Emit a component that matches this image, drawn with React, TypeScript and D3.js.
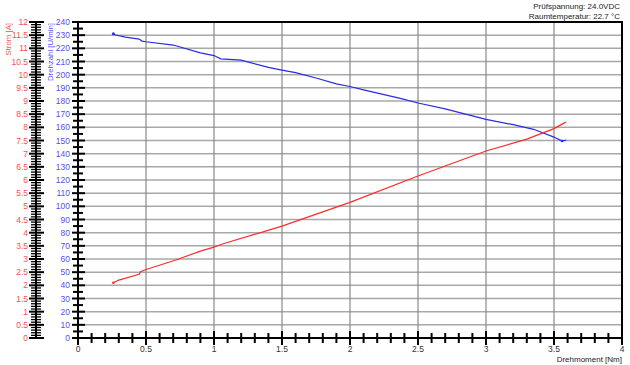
import React from "react";
import * as d3 from "d3";

const torqueRpm = [0.26, 0.27, 0.35, 0.45, 0.47, 0.5, 0.7, 0.9, 1.0, 1.05, 1.2, 1.4, 1.5, 1.6, 1.75, 1.9, 2.0, 2.1, 2.37, 2.5, 2.7, 3.0, 3.2, 3.35, 3.5, 3.56, 3.59];
const rpmValues = [231, 230.3, 228.5, 227, 225.5, 225, 222.5, 216.5, 214.5, 212, 211, 205.5, 203.5, 201.5, 197.5, 193, 191, 188.5, 182, 178.5, 174, 166, 162, 158.5, 152.6, 149.6, 150.4];
const torqueCurrent = [0.26, 0.3, 0.45, 0.46, 0.5, 0.72, 0.9, 1.0, 1.05, 1.5, 2.0, 2.5, 3.0, 3.3, 3.5, 3.57, 3.59];
const currentValues = [2.1, 2.2, 2.42, 2.52, 2.6, 2.96, 3.3, 3.45, 3.55, 4.25, 5.15, 6.15, 7.1, 7.55, 7.95, 8.15, 8.2];
const xTicks = [0, 0.5, 1, 1.5, 2, 2.5, 3, 3.5, 4];
const rpmTicks = d3.range(0, 241, 10);
const currentTicks = d3.range(0, 12.01, 0.5);
const infoLines = ["Prüfspannung: 24.0VDC", "Raumtemperatur: 22.7 °C"];

export default function App() {
  const x = d3.scaleLinear().domain([0, 4]).range([78, 622]);
  const yR = d3.scaleLinear().domain([0, 240]).range([338, 22]);
  const yC = d3.scaleLinear().domain([0, 12]).range([338, 22]);
  const font = "Liberation Sans, Arial, sans-serif";
  const rpmLine = d3.line<number>().x((_, i) => x(torqueRpm[i])).y((d) => yR(d));
  const curLine = d3.line<number>().x((_, i) => x(torqueCurrent[i])).y((d) => yC(d));
  const xMinor = d3.range(0, 4.001, 0.1).map((v) => +v.toFixed(2));
  const cMinor = d3.range(0, 12.001, 0.1).map((v) => +v.toFixed(2));
  const rMinor = d3.range(5, 240, 10);
  return (
    <svg width={630} height={365} style={{ position: "absolute", left: 0, top: 0, background: "#fff" }} fontFamily={font}>
      {rpmTicks.map((t) => (
        <line key={"hg" + t} x1={78} x2={622} y1={yR(t)} y2={yR(t)} stroke="#a8a8a8" strokeWidth={1.5} />
      ))}
      {xTicks.map((t) => (
        <line key={"vg" + t} x1={x(t)} x2={x(t)} y1={22} y2={338} stroke="#8a8a8a" strokeWidth={1.2} />
      ))}
      <line x1={78} x2={623} y1={22} y2={22} stroke="#000" strokeWidth={2} />
      <line x1={622} x2={622} y1={22} y2={338} stroke="#000" strokeWidth={2} />
      <line x1={78} x2={623} y1={338} y2={338} stroke="#000" strokeWidth={2} />
      {xMinor.map((t) => {
        const major = Math.abs(t * 2 - Math.round(t * 2)) < 1e-6;
        return <line key={"xm" + t} x1={x(t)} x2={x(t)} y1={major ? 331 : 333} y2={major ? 345 : 343} stroke="#000" strokeWidth={2} />;
      })}
      {xTicks.map((t) => (
        <text key={"xl" + t} x={x(t)} y={352} fontSize={8.5} textAnchor="middle" fill="#333">{t}</text>
      ))}
      <text x={622} y={362} fontSize={8} textAnchor="end" fill="#222">Drehmoment [Nm]</text>
      <line x1={78} x2={78} y1={22} y2={339} stroke="#000" strokeWidth={2} />
      {rpmTicks.map((t) => (
        <line key={"rt" + t} x1={72} x2={85} y1={yR(t)} y2={yR(t)} stroke="#000" strokeWidth={2} />
      ))}
      {rMinor.map((t) => (
        <line key={"rm" + t} x1={73} x2={83} y1={yR(t)} y2={yR(t)} stroke="#000" strokeWidth={2} />
      ))}
      {rpmTicks.map((t) => (
        <text key={"rl" + t} x={70} y={yR(t) + 3} fontSize={8.5} textAnchor="end" fill="#5050ff">{t}</text>
      ))}
      <text transform="translate(53,23) rotate(-90)" fontSize={7.8} textAnchor="end" fill="#5050ff">Drehzahl [U/min]</text>
      <line x1={36} x2={36} y1={22} y2={339} stroke="#000" strokeWidth={2} />
      {cMinor.map((t) => {
        const major = Math.abs(t * 2 - Math.round(t * 2)) < 1e-6;
        return <line key={"cm" + t} x1={major ? 29 : 31} x2={major ? 44 : 41} y1={yC(t)} y2={yC(t)} stroke="#000" strokeWidth={major ? 2 : 1.3} />;
      })}
      {currentTicks.map((t) => (
        <text key={"cl" + t} x={28} y={yC(t) + 3} fontSize={8.5} textAnchor="end" fill="#ff4c4c">{t}</text>
      ))}
      <text transform="translate(11,23) rotate(-90)" fontSize={7.8} textAnchor="end" fill="#ff4c4c">Strom [A]</text>
      <path d={rpmLine(rpmValues) || ""} fill="none" stroke="#2a2ae8" strokeWidth={1.2} />
      <path d={curLine(currentValues) || ""} fill="none" stroke="#ff2a2a" strokeWidth={1.2} />
      <circle cx={x(torqueRpm[0])} cy={yR(rpmValues[0])} r={1.5} fill="#2a2ae8" />
      <circle cx={x(torqueRpm[torqueRpm.length - 2])} cy={yR(rpmValues[rpmValues.length - 2])} r={1.3} fill="#2a2ae8" />
      <circle cx={x(torqueCurrent[0])} cy={yC(currentValues[0])} r={1.3} fill="#ff2a2a" />
      {infoLines.map((s, i) => (
        <text key={s} x={620} y={8.5 + i * 10} fontSize={8} textAnchor="end" fill="#222">{s}</text>
      ))}
    </svg>
  );
}
